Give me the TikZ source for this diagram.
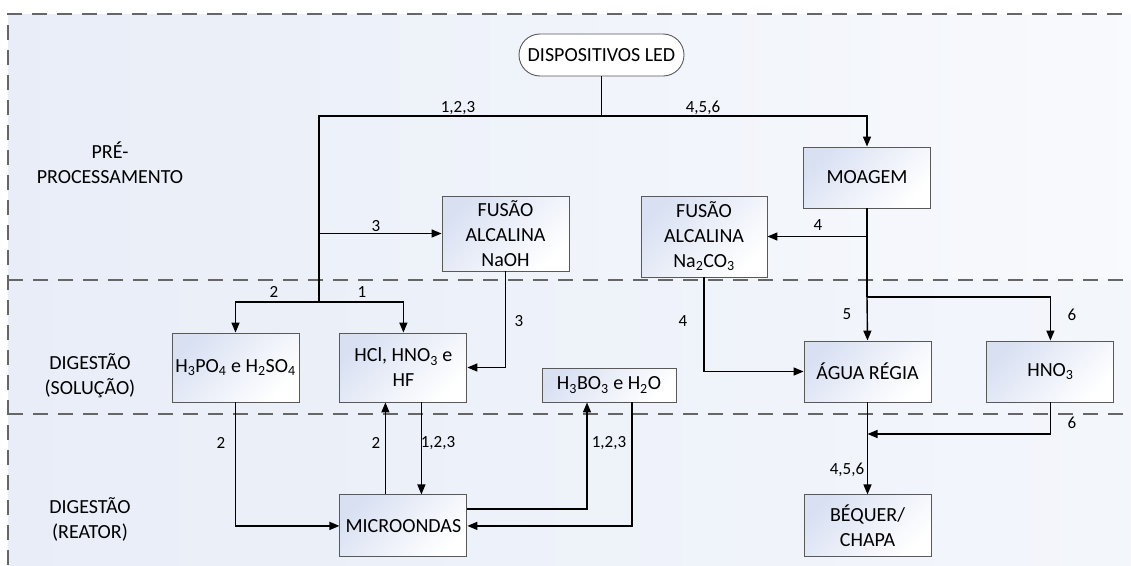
\documentclass[tikz,border=0pt]{standalone}
\usepackage{fontspec}
\setmainfont{Carlito}
\usetikzlibrary{positioning,arrows.meta}
\definecolor{frameGray}{rgb}{0.40,0.40,0.40}
\definecolor{boxGray}{rgb}{0.35,0.35,0.35}
\definecolor{bandBlue}{rgb}{0.91,0.93,0.97}
\definecolor{boxTint}{rgb}{0.85,0.88,0.95}
\newcommand{\lo}[1]{\textsubscript{#1}}

\begin{document}
\begin{tikzpicture}[x=1pt,y=-1pt,
  font=\fontsize{20}{25}\selectfont,
  box/.style={draw=boxGray,line width=0.9pt,align=center,inner sep=0pt,top color=boxTint,bottom color=white,shading angle=45,minimum width=127pt,minimum height=61pt},
  pill/.style={draw=boxGray,line width=0.9pt,fill=white,inner sep=0pt,rounded corners=21pt,minimum width=165pt,minimum height=42pt},
  lbl/.style={font=\fontsize{17}{20}\selectfont,inner sep=0pt},
  sect/.style={align=center},
  sep/.style={draw=frameGray,line width=1.4pt,dash pattern=on 15pt off 10pt},
  ln/.style={line width=1.4pt},
  arr/.style={ln,-{Triangle[length=10pt,width=8pt]}}
]
\useasboundingbox (0,0) rectangle (1131,565);
\fill[left color=bandBlue,right color=bandBlue!30] (8,14) rectangle (1131,280);
\fill[left color=bandBlue,right color=bandBlue!50] (8,280) rectangle (1131,414);
\fill[left color=bandBlue,right color=bandBlue!50] (8,414) rectangle (1131,565);
\draw[sep] (8,565) -- (8,14) -- (1131,14);
\draw[sep] (8,280) -- (1131,280);
\draw[sep] (8,414) -- (1131,414);

\node[sect] (spre) at (110,163) {PRÉ-\\PROCESSAMENTO};
\node[sect] (ssol) at (90,376) {DIGESTÃO\\(SOLUÇÃO)};
\node[sect] (srea) at (90,519) {DIGESTÃO\\(REATOR)};

\node[pill] (led) at (601.5,55) {DISPOSITIVOS LED};
\node[box] (moagem) at (867,177.5) {MOAGEM};
\node[box,minimum height=75pt] (fnaoh) at (505.5,233.5) {FUSÃO\\ALCALINA\\NaOH};
\node[box,minimum width=126pt,minimum height=81pt] (fna2co3) at (704,236.5) {FUSÃO\\ALCALINA\\Na\lo{2}CO\lo{3}};
\node[box,minimum height=69pt] (h3po4) at (235.5,367.5) {H\lo{3}PO\lo{4} e H\lo{2}SO\lo{4}};
\node[box,minimum height=69pt,right=40pt of h3po4] (hcl) {HCl, HNO\lo{3} e\\HF};
\node[box,minimum width=134pt,minimum height=34pt] (h3bo3) at (609,385) {H\lo{3}BO\lo{3} e H\lo{2}O};
\node[box] (agua) at (867.5,371.5) {ÁGUA RÉGIA};
\node[box,right=55pt of agua] (hno3) {HNO\lo{3}};
\node[box,minimum height=62pt,below=92pt of hcl] (micro) {MICROONDAS};
\node[box,minimum height=62pt,below=92pt of agua] (bequer) {BÉQUER/\\CHAPA};

\coordinate (jtop) at (led.south |- 0,116);
\coordinate (jleft) at (319,302);
\coordinate (jmid) at (moagem.south |- 0,297);
\coordinate (jret) at (agua.south |- 0,434);

\draw[ln] (led.south) -- (jtop);
\draw[arr] (jtop) -| (moagem.north);
\draw[ln] (jtop) -| (jleft);
\draw[arr] (fnaoh.west -| jleft) -- (fnaoh.west);
\draw[arr] (jleft) -| (h3po4.north);
\draw[arr] (jleft) -| (hcl.north);
\draw[arr] (fnaoh.south) |- (hcl.east);
\draw[ln] (moagem.south) -- (jmid);
\draw[arr] (fna2co3.east -| moagem.south) -- (fna2co3.east);
\draw[arr] (jmid) -- (agua.north);
\draw[arr] (jmid) -| (hno3.north);
\draw[arr] (fna2co3.south) |- (agua.west);
\draw[arr] (agua.south) -- (bequer.north);
\draw[arr] (hno3.south) |- (jret);
\draw[arr] (h3po4.south) |- (micro.west);
\draw[arr] ([xshift=-18pt]micro.north) -- ([xshift=-18pt]hcl.south);
\draw[arr] ([xshift=18pt]hcl.south) -- ([xshift=18pt]micro.north);
\draw[arr] ([yshift=17pt]micro.east) -| ([xshift=-22pt]h3bo3.south);
\draw[arr] ([xshift=23pt]h3bo3.south) |- (micro.east);

\node[lbl] (l123a) at (458,108) {1,2,3};
\node[lbl] (l456a) at (703,108) {4,5,6};
\node[lbl] (l3a) at (376,226) {3};
\node[lbl] (l4a) at (818,225) {4};
\node[lbl] (l2a) at (274,292) {2};
\node[lbl] (l1a) at (362,292) {1};
\node[lbl] (l3b) at (519,321) {3};
\node[lbl] (l4b) at (683,321) {4};
\node[lbl] (l5) at (847,314) {5};
\node[lbl] (l6a) at (1072,315) {6};
\node[lbl] (l6b) at (1072,423) {6};
\node[lbl] (l456b) at (847,470) {4,5,6};
\node[lbl] (l2b) at (221,443) {2};
\node[lbl] (l2c) at (376,443) {2};
\node[lbl] (l123b) at (438,443) {1,2,3};
\node[lbl] (l123c) at (609,443) {1,2,3};
\end{tikzpicture}
\end{document}
